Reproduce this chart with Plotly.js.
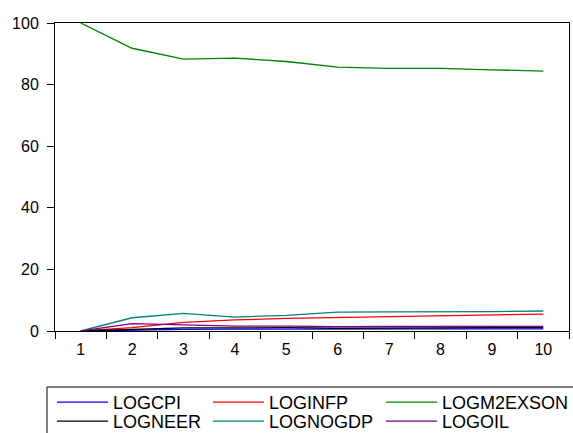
<!DOCTYPE html>
<html>
<head>
<meta charset="utf-8">
<script src="https://cdn.plot.ly/plotly-3.0.1.min.js"></script>
<style>html,body{margin:0;padding:0;background:#fff;}#chart{width:573px;height:433px;}</style>
</head>
<body>
<div id="chart"></div>
<script>
var periods = ["1","2","3","4","5","6","7","8","9","10"];
var logcpi    = [0, 0.3, 0.5, 0.6, 0.6, 0.6, 0.6, 0.7, 0.7, 0.7];
var loginfp   = [0, 1.1, 2.8, 3.6, 4.1, 4.4, 4.8, 5.1, 5.3, 5.5];
var logm2exson= [100, 91.8, 88.3, 88.6, 87.5, 85.7, 85.3, 85.3, 84.8, 84.4];
var logneer   = [0, 0.4, 1.0, 1.0, 1.1, 0.9, 1.0, 1.0, 1.0, 1.1];
var lognogdp  = [0, 4.3, 5.7, 4.5, 5.1, 6.1, 6.2, 6.2, 6.3, 6.5];
var logoil    = [0, 2.4, 2.0, 1.6, 1.6, 1.4, 1.5, 1.4, 1.5, 1.5];
var seriesNames = ["LOGCPI","LOGINFP","LOGM2EXSON","LOGNEER","LOGNOGDP","LOGOIL"];
var seriesValues = [logcpi, loginfp, logm2exson, logneer, lognogdp, logoil];
var seriesColors = ["#0000FF","#FF0000","#008000","#000000","#008080","#800080"];
var yTicks = [0, 20, 40, 60, 80, 100];

// legend column widths (text area) and row assignment
var legendWidths = [90, 107, 120, 90, 107, 120];
var legendRows = ["legend","legend","legend","legend2","legend2","legend2"];

var traces = seriesNames.map(function(n, i){
  return {x: periods, y: seriesValues[i], name: n, type: "scatter", mode: "lines",
          line: {color: seriesColors[i], width: 1.3},
          legend: legendRows[i], legendwidth: legendWidths[i]};
});

var font = {family: "Liberation Sans, Arial, sans-serif", size: 18, color: "#000"};
var tickFont = {family: "Liberation Sans, Arial, sans-serif", size: 16, color: "#000"};
var legendBase = {orientation: "h", xanchor: "left", yanchor: "top",
           itemwidth: 51, font: font, bgcolor: "rgba(0,0,0,0)", borderwidth: 0};
var layout = {
  width: 573, height: 433,
  margin: {l: 55, r: 4, t: 23, b: 102, autoexpand: false},
  paper_bgcolor: "#fff", plot_bgcolor: "#fff",
  font: font,
  showlegend: true,
  xaxis: {type: "category", range: [-0.5, 9.5], tickson: "boundaries", ticks: "outside",
          ticklen: 7, tickwidth: 1, tickcolor: "#000", showgrid: false, showline: true,
          linecolor: "#000", linewidth: 1, mirror: true, zeroline: false, tickfont: tickFont,
          ticklabelstandoff: 4, fixedrange: true},
  yaxis: {range: [0, 100], tickvals: yTicks, ticks: "outside", ticklen: 7, tickwidth: 1,
          tickcolor: "#000", showgrid: false, showline: true, linecolor: "#000",
          linewidth: 1, mirror: true, zeroline: false, tickfont: tickFont,
          ticklabelstandoff: 5, fixedrange: true},
  legend: Object.assign({}, legendBase, {x: -0.00584, y: -0.1721}),
  legend2: Object.assign({}, legendBase, {x: -0.00584, y: -0.2337}),
  shapes: [{type: "rect", xref: "paper", yref: "paper",
            x0: -0.01556, x1: 1.02, y0: -0.5, y1: -0.1818,
            line: {color: "#000", width: 1}, fillcolor: "rgba(0,0,0,0)", layer: "below"}]
};
Plotly.newPlot("chart", traces, layout, {displayModeBar: false});
</script>
</body>
</html>
